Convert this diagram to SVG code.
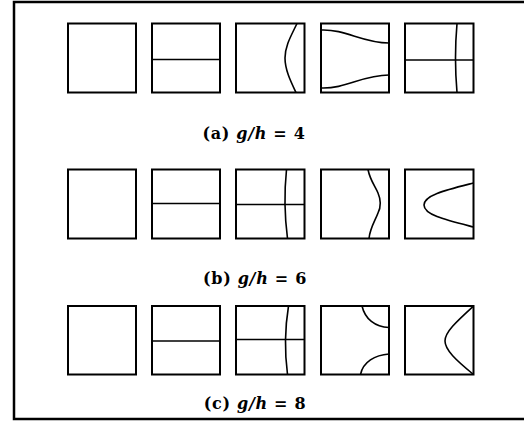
<svg xmlns="http://www.w3.org/2000/svg" width="524" height="421" viewBox="0 0 524 421">
<style>
.box{fill:none;stroke:#000;stroke-width:2}
.crv{fill:none;stroke:#000;stroke-width:1.6}
.frame{fill:none;stroke:#000;stroke-width:2.5}
.lbl{font-family:"DejaVu Serif","Liberation Serif",serif;font-weight:bold;font-size:16px;letter-spacing:0.7px;fill:#000;text-anchor:middle}
.it{font-style:italic}
</style>
<rect width="524" height="421" fill="#fff"/>
<path class="frame" d="M524,2 H14 V419 H524"/>
<g id="row-a">
 <g id="a1"><rect class="box" x="68" y="23.5" width="68" height="69"/></g>
 <g id="a2"><rect class="box" x="152" y="23.5" width="68" height="69"/><line class="crv" x1="152" y1="59.5" x2="220" y2="59.5"/></g>
 <g id="a3"><rect class="box" x="236" y="23.5" width="68.5" height="69"/><path class="crv" d="M297,23.5 C291,36 285,46 285,58 C285,70 291,82 296,92.5"/></g>
 <g id="a4"><rect class="box" x="321" y="23.5" width="68" height="69"/><path class="crv" d="M321,30 C346,29 362,43 389,43"/><path class="crv" d="M321,88 C346,89 362,75 389,75"/></g>
 <g id="a5"><rect class="box" x="405" y="23.5" width="68.5" height="69"/><line class="crv" x1="405" y1="60" x2="473.5" y2="60"/><path class="crv" d="M457,23.5 Q454,58 457,92.5"/></g>
 <text id="label-a" class="lbl" x="254" y="138.5">(a) <tspan class="it">g/h</tspan> = 4</text>
</g>
<g id="row-b">
 <g id="b1"><rect class="box" x="68" y="169.5" width="68" height="69"/></g>
 <g id="b2"><rect class="box" x="152" y="169.5" width="68" height="69"/><line class="crv" x1="152" y1="203.5" x2="220" y2="203.5"/></g>
 <g id="b3"><rect class="box" x="236" y="169.5" width="68.5" height="69"/><line class="crv" x1="236" y1="204.5" x2="304.5" y2="204.5"/><path class="crv" d="M286.5,169.5 Q283,204 287.5,238.5"/></g>
 <g id="b4"><rect class="box" x="321" y="169.5" width="68" height="69"/><path class="crv" d="M368,169.5 C370,180 375,186 378,193 C381,200 381,207 378,213 C375,221 370,228 369,238.5"/></g>
 <g id="b5"><rect class="box" x="405" y="169.5" width="68.5" height="69"/><path class="crv" d="M473.5,183 C446,190 424,195 424,205 C424,215 446,220 473.5,227"/></g>
 <text id="label-b" class="lbl" x="255" y="284">(b) <tspan class="it">g/h</tspan> = 6</text>
</g>
<g id="row-c">
 <g id="c1"><rect class="box" x="68" y="306" width="68" height="68.5"/></g>
 <g id="c2"><rect class="box" x="152" y="306" width="68" height="68.5"/><line class="crv" x1="152" y1="341" x2="220" y2="341"/></g>
 <g id="c3"><rect class="box" x="236" y="306" width="68.5" height="68.5"/><line class="crv" x1="236" y1="339.5" x2="304.5" y2="339.5"/><path class="crv" d="M288.5,306 Q283,340 287.5,374.5"/></g>
 <g id="c4"><rect class="box" x="321" y="306" width="68" height="68.5"/><path class="crv" d="M362,306 C365,319 375,327 389,327.5"/><path class="crv" d="M389,354 C375,355 363,362 360.5,374.5"/></g>
 <g id="c5"><rect class="box" x="405" y="306" width="68.5" height="68.5"/><path class="crv" d="M473.5,306 C456,322 445,332 445,341 C445,350 456,360 473.5,374.5"/></g>
 <text id="label-c" class="lbl" x="255" y="409">(c) <tspan class="it">g/h</tspan> = 8</text>
</g>
<g id="connectors"/>
</svg>
